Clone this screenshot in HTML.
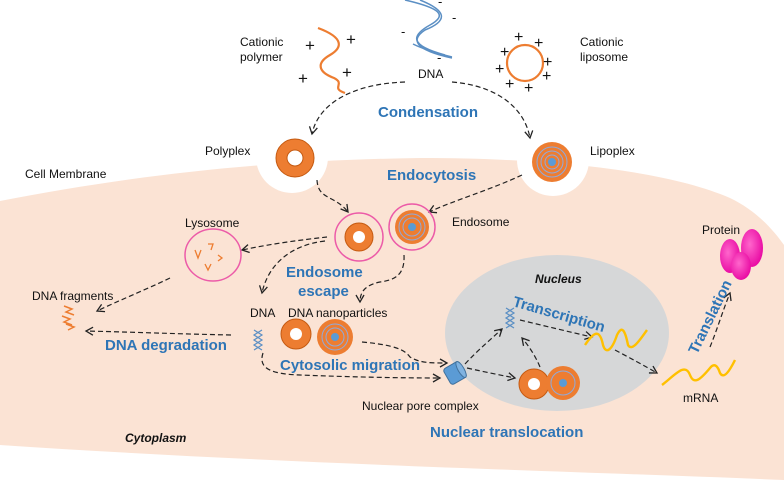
<!DOCTYPE html>
<html><head><meta charset="utf-8"><style>
html,body{margin:0;padding:0;background:#fff;}
svg{display:block;font-family:"Liberation Sans",sans-serif;}
.l{font-size:12px;fill:#111;}
.b{font-weight:bold;fill:#2e75b6;font-size:15px;}
</style></head><body>
<svg width="784" height="486" viewBox="0 0 784 486">
<defs>
<marker id="a" markerWidth="10" markerHeight="10" refX="8" refY="5" orient="auto" markerUnits="userSpaceOnUse">
<path d="M1,1 L8,5 L1,9" fill="none" stroke="#222" stroke-width="1.3"/></marker>
<radialGradient id="pg" cx="0.4" cy="0.4" r="0.7"><stop offset="0" stop-color="#ff66cc"/><stop offset="1" stop-color="#e6009e"/></radialGradient>
</defs>
<path d="M0,201 C150,172 280,160 420,158 C560,158 670,172 730,198 C755,210 772,228 784,245 L784,480 C600,472 300,465 0,445 Z" fill="#fbe3d4"/>
<circle cx="292" cy="157" r="36" fill="#fff"/>
<circle cx="553" cy="160" r="36" fill="#fff"/>
<ellipse cx="557" cy="333" rx="112" ry="78" fill="#d6d7d8"/>
<g fill="none" stroke="#5b8fc4" stroke-width="1.5">
<path d="M405,0 C440,8 448,15 430,25 C412,35 408,45 445,55"/>
<path d="M420,0 C445,10 450,20 425,30 C410,40 415,50 452,58"/>
<path d="M413,44 C425,50 440,54 452,57"/>
</g>
<g font-size="13" fill="#111"><text x="438" y="6">-</text><text x="452" y="22">-</text><text x="401" y="36">-</text><text x="437" y="62">-</text></g>
<path d="M318,28 C345,38 342,48 330,55 C316,63 318,72 334,78 C346,84 330,88 345,93" fill="none" stroke="#ed7d31" stroke-width="2.2"/>
<g font-size="17" fill="#111"><text x="305" y="51">+</text><text x="346" y="45">+</text><text x="298" y="84">+</text><text x="342" y="78">+</text></g>
<circle cx="525" cy="63" r="18" fill="none" stroke="#ed7d31" stroke-width="2.2"/>
<g font-size="16" fill="#111"><text x="514" y="42">+</text><text x="534" y="48">+</text><text x="500" y="57">+</text><text x="543" y="67">+</text><text x="495" y="74">+</text><text x="542" y="81">+</text><text x="505" y="89">+</text><text x="524" y="93">+</text></g>
<text class="l" x="240" y="46">Cationic</text><text class="l" x="240" y="61">polymer</text>
<text class="l" x="418" y="78">DNA</text>
<text class="l" x="580" y="46">Cationic</text><text class="l" x="580" y="61">liposome</text>
<text class="b" x="378" y="117">Condensation</text>
<g fill="none" stroke="#222" stroke-width="1.2" stroke-dasharray="5,3" marker-end="url(#a)">
<path d="M405,82 C350,84 318,105 312,134"/>
<path d="M452,82 C500,86 525,110 530,138"/>
<path d="M317,180 C318,200 335,195 348,212"/>
<path d="M522,175 C490,190 455,200 429,212"/>
<path d="M327,237 C300,240 270,244 242,250"/>
<path d="M325,241 C290,245 268,265 262,293"/>
<path d="M404,255 C405,275 395,280 380,282 C365,285 360,292 360,302"/>
<path d="M170,278 C145,290 120,300 97,311"/>
<path d="M231,335 C180,334 130,332 86,331"/>
<path d="M362,342 C395,345 405,350 410,357 C420,363 430,363 447,363"/>
<path d="M263,353 C258,368 270,374 300,375 C350,377 400,378 440,378"/>
<path d="M465,364 C478,350 490,340 502,329"/>
<path d="M540,367 C535,355 528,345 522,338"/>
<path d="M520,320 C545,326 570,332 592,337"/>
<path d="M467,368 C485,372 500,375 515,378"/>
<path d="M615,350 C630,358 645,366 657,373"/>
<path d="M710,347 C717,330 723,310 730,293"/>
</g>
<text class="l" x="205" y="155">Polyplex</text>
<circle cx="295" cy="158" r="19" fill="#ed7d31" stroke="#c55a11"/><circle cx="295" cy="158" r="8" fill="#fff" stroke="#c55a11"/>
<text class="l" x="590" y="155">Lipoplex</text>
<g><circle cx="552" cy="162" r="20" fill="#ed7d31"/>
<circle cx="552" cy="162" r="15" fill="none" stroke="#8faadc"/><circle cx="552" cy="162" r="11" fill="none" stroke="#8faadc"/><circle cx="552" cy="162" r="7" fill="none" stroke="#8faadc"/><circle cx="552" cy="162" r="4" fill="#5b9bd5"/></g>
<text class="l" x="25" y="178">Cell Membrane</text>
<text class="b" x="387" y="180">Endocytosis</text>
<circle cx="359" cy="237" r="24" fill="none" stroke="#ec5ba8" stroke-width="1.5"/>
<circle cx="359" cy="237" r="14" fill="#ed7d31" stroke="#c55a11"/><circle cx="359" cy="237" r="6" fill="#fff"/>
<circle cx="412" cy="227" r="23" fill="none" stroke="#ec5ba8" stroke-width="1.5"/>
<circle cx="412" cy="227" r="17" fill="#ed7d31"/>
<circle cx="412" cy="227" r="13" fill="none" stroke="#8faadc"/><circle cx="412" cy="227" r="9" fill="none" stroke="#8faadc"/><circle cx="412" cy="227" r="4" fill="#5b9bd5"/>
<text class="l" x="452" y="226">Endosome</text>
<text class="l" x="185" y="227">Lysosome</text>
<ellipse cx="213" cy="255" rx="28" ry="26" fill="none" stroke="#ec5ba8" stroke-width="1.5"/>
<g fill="none" stroke="#ed7d31" stroke-width="1.3"><path d="M195,250 l3,8 l3,-8"/><path d="M208,244 l5,0 l-2,6"/><path d="M218,255 l4,3 l-4,3"/><path d="M205,264 l3,6 l3,-6"/></g>
<text class="b" x="286" y="277">Endosome</text>
<text class="b" x="298" y="296">escape</text>
<text class="l" x="32" y="300">DNA fragments</text>
<g fill="none" stroke="#ed7d31" stroke-width="1.5"><path d="M64,306 l8,3 l-6,3 l8,3"/><path d="M62,316 l8,3 l-6,3 l8,3"/><path d="M66,324 l8,3 l-6,3"/></g>
<text class="b" x="105" y="350">DNA degradation</text>
<text class="l" x="250" y="317">DNA</text>
<text class="l" x="288" y="317">DNA nanoparticles</text>
<g fill="none" stroke="#5b8fc4" stroke-width="1.2"><path d="M254,330 L262,335 L254,340 L262,345 L254,350"/><path d="M262,330 L254,335 L262,340 L254,345 L262,350"/></g>
<circle cx="296" cy="334" r="15" fill="#ed7d31" stroke="#c55a11"/><circle cx="296" cy="334" r="6" fill="#fff"/>
<circle cx="335" cy="337" r="18" fill="#ed7d31"/><circle cx="335" cy="337" r="13" fill="none" stroke="#8faadc"/><circle cx="335" cy="337" r="9" fill="none" stroke="#8faadc"/><circle cx="335" cy="337" r="4" fill="#5b9bd5"/>
<text class="b" x="280" y="370">Cytosolic migration</text>
<g transform="rotate(-30 455 373)"><rect x="446" y="364" width="18" height="18" rx="3" fill="#5b9bd5" stroke="#41719c"/><ellipse cx="462" cy="373" rx="3" ry="9" fill="#7fb2e0" stroke="#41719c"/></g>
<text class="l" x="362" y="410">Nuclear pore complex</text>
<text x="535" y="283" font-size="12" font-weight="bold" font-style="italic" fill="#111">Nucleus</text>
<text class="b" transform="translate(512,306) rotate(16)">Transcription</text>
<g fill="none" stroke="#5b8fc4" stroke-width="1.2"><path d="M506,308 L514,313 L506,318 L514,323 L506,328"/><path d="M514,308 L506,313 L514,318 L506,323 L514,328"/></g>
<path d="M585,345 C595,330 600,330 603,345 C606,355 612,350 617,335 C622,325 625,330 628,345 C632,352 640,340 647,330" fill="none" stroke="#ffc000" stroke-width="2.4"/>
<circle cx="534" cy="384" r="15" fill="#ed7d31" stroke="#c55a11"/><circle cx="534" cy="384" r="6" fill="#fff"/>
<circle cx="563" cy="383" r="17" fill="#ed7d31"/><circle cx="563" cy="383" r="12" fill="none" stroke="#8faadc"/><circle cx="563" cy="383" r="4" fill="#5b9bd5"/>
<text class="b" x="430" y="437">Nuclear translocation</text>
<path d="M662,385 C675,375 685,362 690,375 C694,385 700,380 710,368 C715,362 718,367 720,373 C724,380 730,370 735,360" fill="none" stroke="#ffc000" stroke-width="2.4"/>
<text class="l" x="683" y="402">mRNA</text>
<text class="b" transform="translate(697,355) rotate(-64)">Translation</text>
<text class="l" x="702" y="234">Protein</text>
<ellipse cx="730" cy="256" rx="10" ry="17" fill="url(#pg)"/>
<ellipse cx="752" cy="248" rx="11" ry="19" fill="url(#pg)"/>
<ellipse cx="741" cy="266" rx="10" ry="14" fill="url(#pg)"/>
<text x="125" y="442" font-size="12" font-weight="bold" font-style="italic" fill="#111">Cytoplasm</text>
</svg>
</body></html>
